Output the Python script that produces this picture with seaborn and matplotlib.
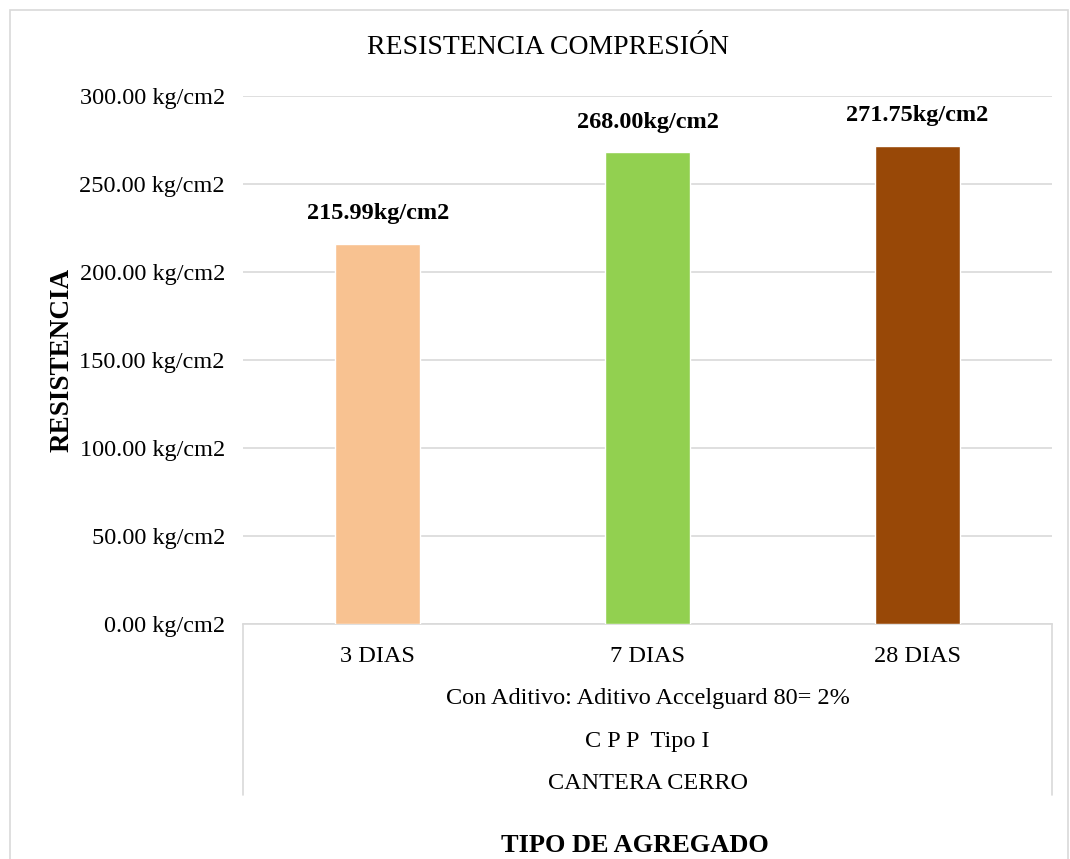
import matplotlib
matplotlib.use("Agg")
import matplotlib.pyplot as plt
import seaborn as sns
import pandas as pd
from matplotlib.lines import Line2D
from matplotlib.patches import Rectangle

# Data
dias = ["3 DIAS", "7 DIAS", "28 DIAS"]
resistencia = [215.99, 268.00, 271.75]
colores = ["#F8C291", "#92D050", "#984807"]
niveles = ["Con Aditivo: Aditivo Accelguard 80= 2%", "C P P  Tipo I", "CANTERA CERRO"]
yticks = [0, 50, 100, 150, 200, 250, 300]

df = pd.DataFrame({"dias": dias, "resistencia": resistencia})

sns.set_theme(style="white")
plt.rcParams["font.family"] = ["Liberation Serif", "DejaVu Serif"]
plt.rcParams["text.color"] = "black"
plt.rcParams["ytick.color"] = "black"
grid_c = "#d9d9d9"

fig = plt.figure(figsize=(10.7, 8.59), dpi=100)
ax = fig.add_axes([243 / 1070, 1 - 624 / 859, (1052 - 243) / 1070, (624 - 96) / 859])

sns.barplot(data=df, x="dias", y="resistencia", hue="dias", palette=colores,
            saturation=1, width=0.315, legend=False, ax=ax, zorder=3)

ax.set_ylim(0, 300)
ax.set_xlim(-0.5, 2.5)
ax.set_yticks(yticks)
ax.set_yticklabels([f"{v:.2f} kg/cm2" for v in yticks], fontsize=17.5)
ax.yaxis.grid(True, color=grid_c, linewidth=1.2, zorder=0)
ax.tick_params(axis="y", length=0, pad=13)
ax.set_xticks([])
ax.set_xlabel("")
ax.set_ylabel("")
for s in ["top", "right", "left"]:
    ax.spines[s].set_visible(False)
ax.spines["bottom"].set_color(grid_c)
ax.spines["bottom"].set_linewidth(1.2)

# Value labels
for i, v in enumerate(resistencia):
    ax.annotate(f"{v:.2f}kg/cm2", (i, v), xytext=(0, 14), textcoords="offset points",
                ha="center", va="bottom", fontsize=17.5, fontweight="bold")

# Multi-level category axis
for i, d in enumerate(dias):
    ax.text(i, -0.062, d, transform=ax.get_xaxis_transform(), ha="center", va="center", fontsize=17.5)
for k, txt in enumerate(niveles):
    ax.text(0.5, -0.142 - k * 0.0805, txt, transform=ax.transAxes, ha="center", va="center", fontsize=17.5)
for xx in [0, 1]:
    ax.add_line(Line2D([xx, xx], [0, -171 / 528], transform=ax.transAxes, color=grid_c,
                       linewidth=1.2, clip_on=False))

fig.text(548 / 1070, 1 - 47 / 859, "RESISTENCIA COMPRESIÓN", ha="center", va="center", fontsize=20)
fig.text(62 / 1070, 1 - 360 / 859, "RESISTENCIA", ha="center", va="center", rotation=90,
         fontsize=19.5, fontweight="bold")
fig.text(635 / 1070, 1 - 845 / 859, "TIPO DE AGREGADO", ha="center", va="center",
         fontsize=19, fontweight="bold")

fig.patches.append(Rectangle((10 / 1070, -0.05), 1058 / 1070, 1.05 - 10 / 859,
                             transform=fig.transFigure, fill=False, edgecolor=grid_c, linewidth=1.2))

fig.savefig("out.png", dpi=100)
